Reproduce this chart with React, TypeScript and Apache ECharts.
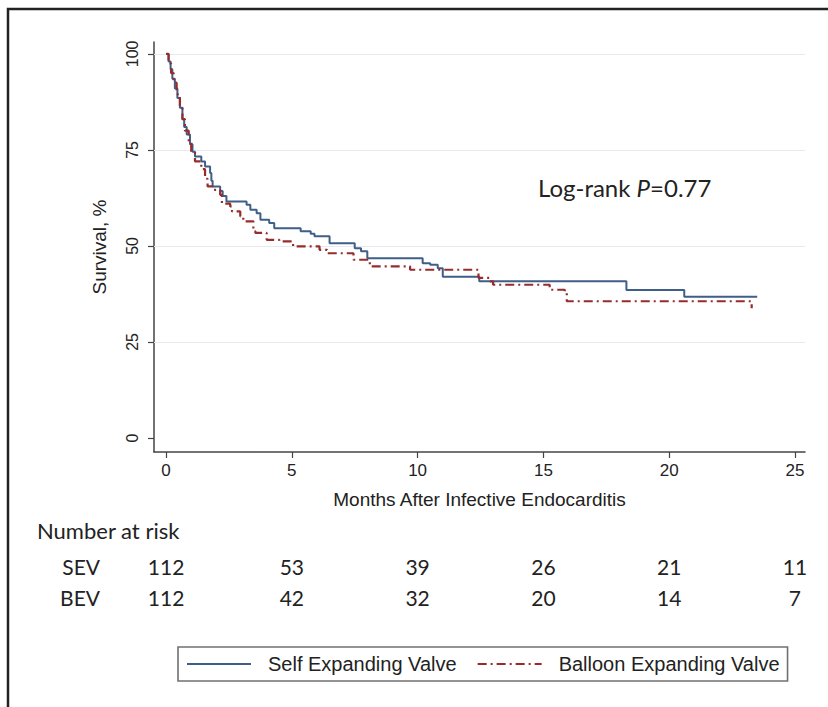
import React, { useEffect, useRef } from "react";
import * as echarts from "echarts";

// Kaplan-Meier steps: time (months) at which survival (%) changes
const sevTimes = [0, 0.1, 0.18, 0.25, 0.35, 0.45, 0.55, 0.65, 0.72, 0.82, 0.95, 1.05, 1.15, 1.4, 1.55, 1.75, 1.8, 1.85, 2.15, 2.25, 2.4, 3.2, 3.35, 3.6, 3.75, 4.1, 4.3, 5.35, 5.75, 5.9, 6.5, 7.5, 7.75, 8.0, 10.2, 10.5, 10.8, 11.0, 12.45, 18.3, 20.6, 23.5];
const sevSurv = [100, 98, 96, 93.5, 91, 88.5, 86, 83, 81, 79, 76.5, 74.5, 73.3, 72, 70.7, 69, 67, 65.5, 64.3, 63, 61.6, 60.7, 59.4, 58.5, 56.8, 56, 54.6, 53.8, 53.2, 52.5, 50.7, 49.4, 48.6, 46.8, 45.5, 45.1, 44.2, 42, 40.8, 38.5, 36.8, 36.8];

const bevTimes = [0, 0.1, 0.2, 0.3, 0.42, 0.55, 0.65, 0.75, 0.9, 1.0, 1.15, 1.4, 1.55, 1.65, 1.85, 2.15, 2.22, 2.55, 2.62, 2.95, 3.07, 3.47, 3.55, 4.0, 4.5, 5.05, 6.1, 6.4, 7.45, 8.1, 9.7, 12.42, 12.88, 13.0, 15.25, 15.85, 15.93, 23.25, 23.28];
const bevSurv = [100, 97.5, 95, 92.5, 89.5, 86.5, 83, 80, 77, 74.5, 72, 70, 67.5, 65.5, 64.6, 63.3, 61, 60.3, 59, 57.7, 56.4, 53.8, 53.4, 51.6, 51.2, 49.9, 49, 48.1, 46.4, 44.7, 43.8, 41.7, 40.8, 39.9, 38.6, 37.8, 35.6, 35.6, 33.8];

const xTicks = [0, 5, 10, 15, 20, 25];
const yTicks = [0, 25, 50, 75, 100];
const gridValues = [25, 50, 75, 100];

const riskTimes = [0, 5, 10, 15, 20, 25];
const riskSEV = [112, 53, 39, 26, 21, 11];
const riskBEV = [112, 42, 32, 20, 14, 7];
const groupLabels = ["SEV", "BEV"];
const seriesNames = ["Self Expanding Valve", "Balloon Expanding Valve"];

const xTitle = "Months After Infective Endocarditis";
const yTitle = "Survival, %";
const riskTitle = "Number at risk";

export default function App() {
  const ref = useRef<HTMLDivElement>(null);

  useEffect(() => {
    const chart = echarts.init(ref.current!, null, { renderer: "svg" });
    const axisColor = "#444";
    const font = "'Liberation Sans', Arial, sans-serif";
    const hFont = "Lato, 'Open Sans', sans-serif";
    const blue = "#3f5f88";
    const red = "#962c2c";

    chart.setOption({
      animation: false,
      backgroundColor: "#ffffff",
      grid: { left: 154, right: 23, top: 42, bottom: 255 },
      xAxis: {
        type: "value",
        min: -0.48,
        max: 25.4,
        name: xTitle,
        nameLocation: "middle",
        nameGap: 38,
        nameTextStyle: { fontSize: 19, color: "#222", fontFamily: font },
        axisLine: { show: true, onZero: false, lineStyle: { color: axisColor, width: 1.5 } },
        axisTick: { show: true, length: 6, customValues: xTicks, lineStyle: { color: axisColor, width: 1.2 } },
        axisLabel: { customValues: xTicks, fontSize: 17, color: "#222", margin: 10, fontFamily: font },
        splitLine: { show: false },
      },
      yAxis: {
        type: "value",
        min: -3.65,
        max: 103.1,
        name: yTitle,
        nameLocation: "middle",
        nameGap: 45,
        nameTextStyle: { fontSize: 19, color: "#222", fontFamily: font },
        axisLine: { show: true, onZero: false, lineStyle: { color: axisColor, width: 1.5 } },
        axisTick: { show: true, length: 6, customValues: yTicks, lineStyle: { color: axisColor, width: 1.2 } },
        axisLabel: { customValues: yTicks, rotate: 90, fontSize: 16, color: "#222", margin: 14, fontFamily: font },
        splitLine: { show: false },
      },
      legend: {
        left: 178,
        top: 647,
        orient: "horizontal",
        data: seriesNames,
        borderColor: "#707070",
        borderWidth: 1.6,
        padding: [7, 8, 7, 8],
        itemGap: 20,
        itemWidth: 64,
        itemHeight: 12,
        itemStyle: { opacity: 0 },
        textStyle: { fontSize: 20, color: "#222", fontFamily: font, padding: [0, 0, 0, 12] },
      },
      series: [
        {
          name: seriesNames[0],
          type: "line",
          step: "end",
          symbol: "none",
          data: sevTimes.map((t, i) => [t, sevSurv[i]]),
          lineStyle: { color: blue, width: 2 },
          itemStyle: { color: blue },
          z: 3,
          markLine: {
            silent: true,
            symbol: "none",
            label: { show: false },
            lineStyle: { color: "#e6eaee", width: 1, type: "solid" },
            data: gridValues.map((v) => ({ yAxis: v })),
            z: 1,
          },
        },
        {
          name: seriesNames[1],
          type: "line",
          step: "end",
          symbol: "none",
          data: bevTimes.map((t, i) => [t, bevSurv[i]]),
          lineStyle: { color: red, width: 2.2, type: [9, 4, 2, 4] },
          itemStyle: { color: red },
          z: 4,
        },
      ],
    });

    const px = (t: number) => chart.convertToPixel({ xAxisIndex: 0 }, t) as number;
    const texts: any[] = [];
    texts.push({
      type: "text",
      left: 37,
      top: 519,
      style: { text: riskTitle, fontSize: 22, fontFamily: hFont, fill: "#222" },
    });
    const rows = [riskSEV, riskBEV];
    const rowY = [566, 597];
    rows.forEach((row, r) => {
      texts.push({
        type: "text",
        x: 100,
        y: rowY[r],
        style: { text: groupLabels[r], fontSize: 21, fontFamily: hFont, fill: "#222", align: "right", verticalAlign: "middle" },
      });
      row.forEach((n, i) => {
        texts.push({
          type: "text",
          x: px(riskTimes[i]),
          y: rowY[r],
          style: { text: String(n), fontSize: 21, fontFamily: hFont, fill: "#222", align: "center", verticalAlign: "middle" },
        });
      });
    });
    texts.push({
      type: "text",
      x: 538,
      y: 187,
      style: {
        text: "{a|Log-rank }{b|P}{a|=0.77}",
        verticalAlign: "middle",
        rich: {
          a: { fontSize: 24, fontFamily: hFont, fill: "#222" },
          b: { fontSize: 24, fontFamily: hFont, fill: "#222", fontStyle: "italic" },
        },
      },
    });
    texts.push({
      type: "polyline",
      shape: { points: [[8, 707], [8, 9], [828, 9]] },
      style: { stroke: "#222", lineWidth: 2.5, fill: "none" },
    });
    chart.setOption({ graphic: texts });

    return () => chart.dispose();
  }, []);

  return (
    <div
      ref={ref}
      style={{ position: "fixed", left: 0, top: 0, width: 828, height: 707 }}
    />
  );
}
